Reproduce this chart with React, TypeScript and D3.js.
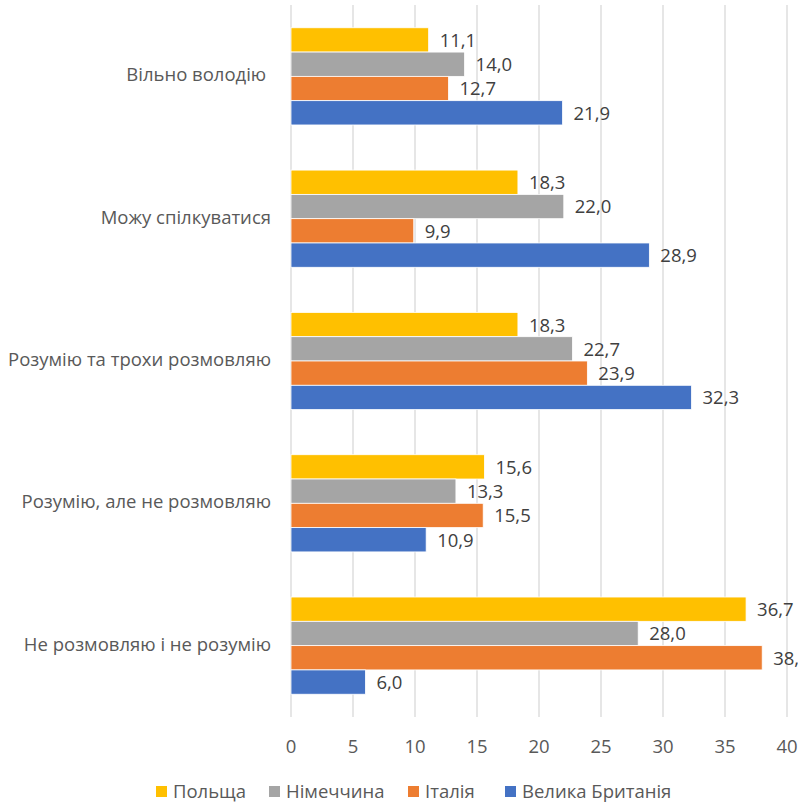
import React, { useRef, useEffect } from "react"
import * as d3 from "d3"

const categories = [
  "Вільно володію ",
  "Можу спілкуватися",
  "Розумію та трохи розмовляю",
  "Розумію, але не розмовляю",
  "Не розмовляю і не розумію",
]
const seriesNames = ["Польща", "Німеччина", "Італія", "Велика Британія"]
const seriesColors = ["#FFC000", "#A5A5A5", "#ED7D31", "#4472C4"]
const poland = [11.1, 18.3, 18.3, 15.6, 36.7]
const germany = [14.0, 22.0, 22.7, 13.3, 28.0]
const italy = [12.7, 9.9, 23.9, 15.5, 38.0]
const uk = [21.9, 28.9, 32.3, 10.9, 6.0]
const xTicks = [0, 5, 10, 15, 20, 25, 30, 35, 40]

const W = 804
const H = 802
const FONT = "'Open Sans', 'Noto Sans', sans-serif"
const FS = 18.5
const TEXT = "#595959"

const App: React.FC = () => {
  const svgRef = useRef<SVGSVGElement>(null)

  useEffect(() => {
    if (!svgRef.current) return
    const svg = d3.select(svgRef.current)
    svg.selectAll("*").remove()

    const values = [poland, germany, italy, uk]
    const left = 291, right = 787, top = 5, bottom = 717

    const x = d3.scaleLinear().domain([0, 40]).range([left, right])
    const y = d3.scaleBand().domain(categories).range([top, bottom]).paddingInner(0.317).paddingOuter(0.16)
    const ySub = d3.scaleBand().domain(seriesNames).range([0, y.bandwidth()])

    svg.append("defs").append("clipPath").attr("id", "clip")
      .append("rect").attr("x", 0).attr("y", 0).attr("width", 798).attr("height", H)

    // gridlines
    svg.append("g").selectAll("line").data(xTicks).enter().append("line")
      .attr("x1", d => x(d)).attr("x2", d => x(d))
      .attr("y1", top).attr("y2", bottom)
      .attr("stroke", "#D9D9D9").attr("stroke-width", 1.3)

    // bars + data labels
    const groups = svg.append("g").attr("clip-path", "url(#clip)")
    seriesNames.forEach((s, si) => {
      const g = groups.append("g")
      g.selectAll("rect").data(values[si]).enter().append("rect")
        .attr("x", x(0))
        .attr("y", (_, i) => (y(categories[i]) as number) + (ySub(s) as number))
        .attr("width", d => x(d) - x(0))
        .attr("height", ySub.bandwidth())
        .attr("fill", seriesColors[si])
        .attr("stroke", "#fff").attr("stroke-width", 0.8)
      g.selectAll("text").data(values[si]).enter().append("text")
        .attr("x", d => x(d) + 11)
        .attr("y", (_, i) => (y(categories[i]) as number) + (ySub(s) as number) + ySub.bandwidth() / 2 + 2)
        .attr("dominant-baseline", "middle")
        .attr("font-family", FONT).attr("font-size", FS).attr("fill", "#404040")
        .text(d => d3.format(".1f")(d).replace(".", ","))
    })

    // category labels
    svg.append("g").selectAll("text").data(categories).enter().append("text")
      .attr("x", 271)
      .attr("y", d => (y(d) as number) + y.bandwidth() / 2)
      .attr("text-anchor", "end")
      .attr("dominant-baseline", "middle")
      .attr("font-family", FONT).attr("font-size", FS).attr("fill", TEXT)
      .style("white-space", "pre")
      .text(d => d)

    // x tick labels
    svg.append("g").selectAll("text").data(xTicks).enter().append("text")
      .attr("x", d => x(d)).attr("y", 753)
      .attr("text-anchor", "middle")
      .attr("font-family", FONT).attr("font-size", FS).attr("fill", TEXT)
      .text(d => d)

    // legend
    const legX = [156, 269, 408, 505]
    const leg = svg.append("g")
    seriesNames.forEach((s, i) => {
      leg.append("rect").attr("x", legX[i]).attr("y", 786).attr("width", 11).attr("height", 11)
        .attr("fill", seriesColors[i])
      leg.append("text").attr("x", legX[i] + 17).attr("y", 798)
        .attr("font-family", FONT).attr("font-size", FS).attr("fill", TEXT)
        .text(s)
    })
  }, [])

  return (
    <svg ref={svgRef} width={W} height={H}
      style={{ position: "absolute", left: 0, top: 0, background: "#fff" }} />
  )
}

export default App
